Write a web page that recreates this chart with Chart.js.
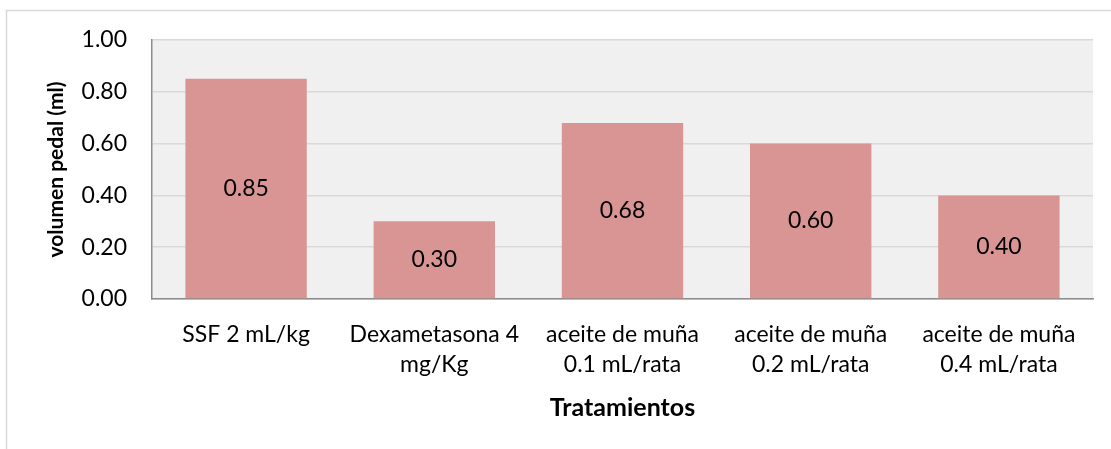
<!DOCTYPE html>
<html>
<head>
<meta charset="utf-8">
<script src="https://cdn.jsdelivr.net/npm/chart.js@4/dist/chart.umd.min.js"></script>
<style>
  html, body { margin: 0; padding: 0; background: #fff; }
  #wrap { width: 1111px; height: 449px; position: relative; }
</style>
</head>
<body>
<div id="wrap"><canvas id="chart"></canvas></div>
<script>
// categories (multi-line labels), values and axis text
const categories = [
    ['SSF 2 mL/kg'],
    ['Dexametasona 4', 'mg/Kg'],
    ['aceite de muña', '0.1 mL/rata'],
    ['aceite de muña', '0.2 mL/rata'],
    ['aceite de muña', '0.4 mL/rata']
];
const volumen = [0.85, 0.30, 0.68, 0.60, 0.40];
const yTitle = 'volumen pedal (ml)';
const xTitle = 'Tratamientos';

const fontFace = "Lato, 'Open Sans', sans-serif";
const barColor = '#d99594';
const gridColor = '#d9d9d9';
const axisColor = '#8c8c8c';

// plot area fill + outer chart border
const backdrop = {
    id: 'backdrop',
    beforeDraw(chart) {
        const { ctx, chartArea: a } = chart;
        ctx.save();
        ctx.fillStyle = '#f0f0f0';
        ctx.fillRect(a.left, a.top, a.right - a.left, a.bottom - a.top);
        ctx.strokeStyle = gridColor;
        ctx.lineWidth = 1.5;
        ctx.beginPath();
        ctx.moveTo(6.5, 460);
        ctx.lineTo(6.5, 10.5);
        ctx.lineTo(1120, 10.5);
        ctx.stroke();
        ctx.restore();
    }
};

// value labels centred inside each bar
const barValues = {
    id: 'barValues',
    afterDatasetsDraw(chart) {
        const { ctx } = chart;
        const meta = chart.getDatasetMeta(0);
        ctx.save();
        ctx.font = `23px ${fontFace}`;
        ctx.fillStyle = '#000';
        ctx.textAlign = 'center';
        ctx.textBaseline = 'middle';
        meta.data.forEach((bar, i) => {
            const y = (bar.y + bar.base) / 2;
            ctx.fillText(volumen[i].toFixed(2), bar.x, y);
        });
        ctx.restore();
    }
};

new Chart(document.getElementById('chart'), {
    type: 'bar',
    data: {
        labels: categories,
        datasets: [{
            data: volumen,
            backgroundColor: barColor,
            borderWidth: 0,
            categoryPercentage: 1,
            barPercentage: 0.645
        }]
    },
    options: {
        responsive: true,
        maintainAspectRatio: false,
        animation: false,
        layout: { padding: { left: 30, top: 40, right: 18, bottom: 0 } },
        plugins: {
            legend: { display: false },
            tooltip: { enabled: false }
        },
        scales: {
            x: {
                grid: { display: false, drawTicks: false },
                border: { color: axisColor, width: 1.5 },
                ticks: {
                    color: '#000',
                    padding: 21,
                    maxRotation: 0,
                    autoSkip: false,
                    font: { family: fontFace, size: 23, lineHeight: 1.3 }
                },
                title: {
                    display: true,
                    text: xTitle,
                    color: '#000',
                    padding: { top: 0, bottom: 26 },
                    font: { family: fontFace, size: 25, weight: 'bold', lineHeight: 1.2 }
                },
                afterFit: (scale) => { scale.height = 150; }
            },
            y: {
                min: 0,
                max: 1,
                grid: { color: gridColor, lineWidth: 1.5, drawTicks: false },
                border: { color: axisColor, width: 1.5 },
                ticks: {
                    stepSize: 0.2,
                    color: '#000',
                    padding: 25,
                    font: { family: fontFace, size: 23 },
                    callback: (v) => v.toFixed(2)
                },
                title: {
                    display: true,
                    text: yTitle,
                    color: '#000',
                    padding: { top: 14, bottom: 0 },
                    font: { family: fontFace, size: 21, weight: 'bold', lineHeight: 1.2 }
                },
                afterFit: (scale) => { scale.width = 122; }
            }
        }
    },
    plugins: [backdrop, barValues]
});
</script>
</body>
</html>
